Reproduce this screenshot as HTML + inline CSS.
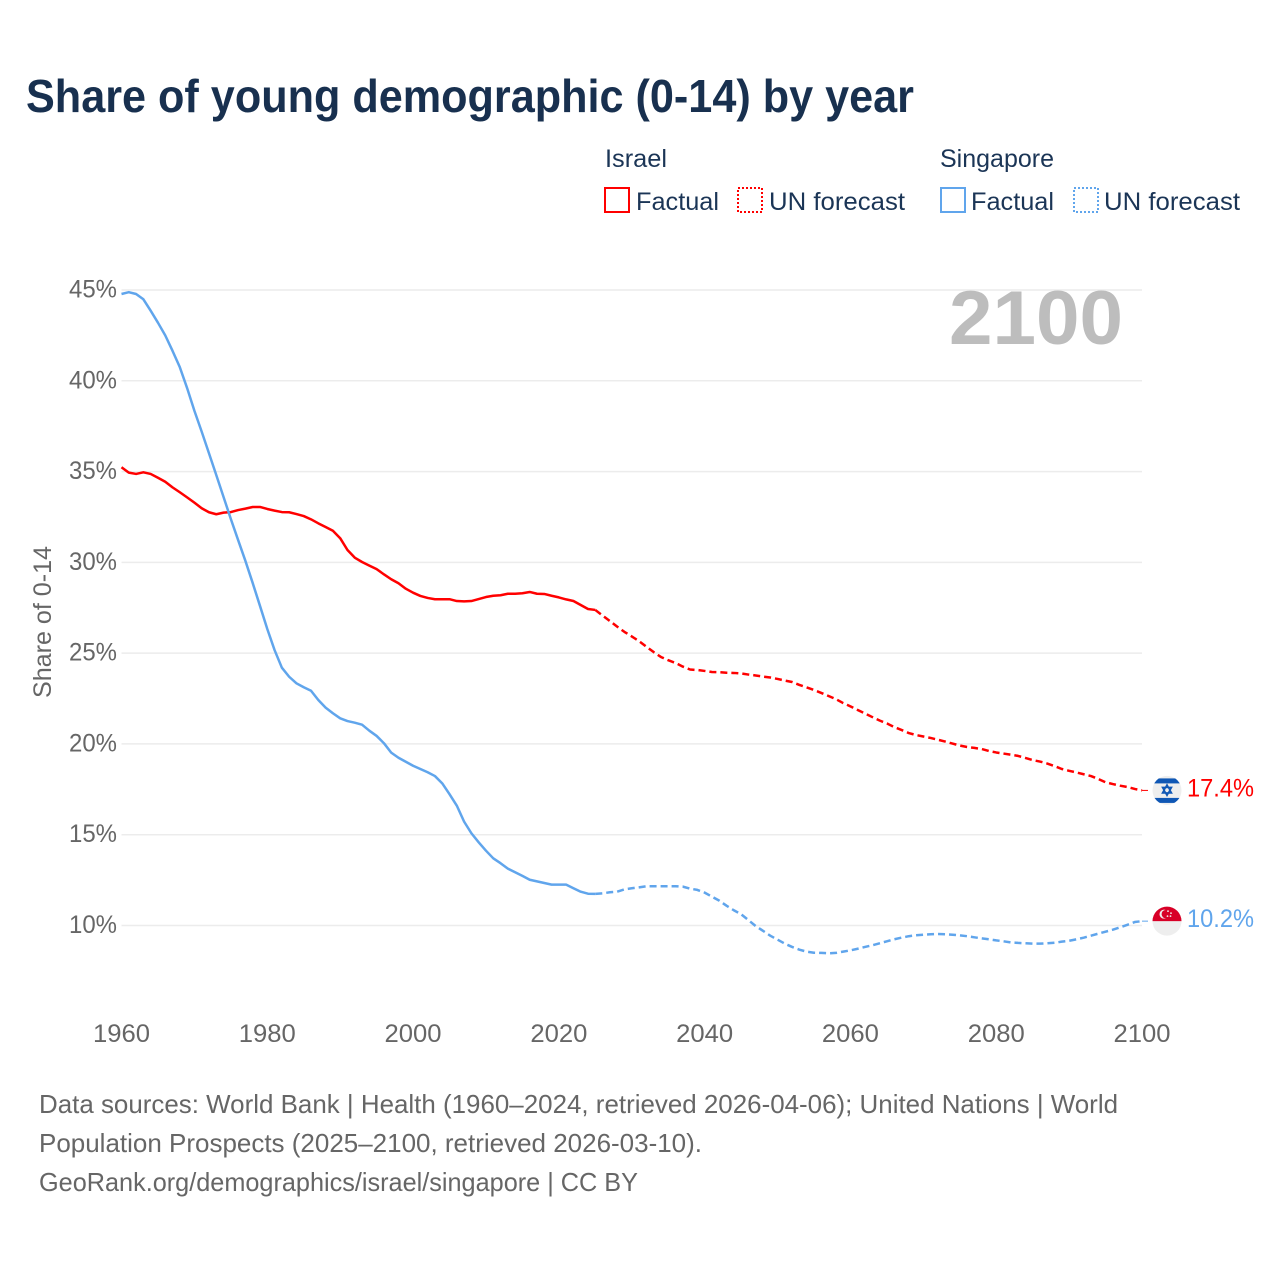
<!DOCTYPE html>
<html lang="en">
<head>
<meta charset="utf-8">
<title>Share of young demographic (0-14) by year</title>
<style>
  html, body { margin: 0; padding: 0; background: #fff; }
  svg { display: block; }
  text { font-family: "Liberation Sans", sans-serif; }
  .legend-text { font-size: 25px; fill: #1b3556; }
  .tick { font-size: 25px; fill: #666; }
  .foot { font-size: 26px; fill: #666; }
</style>
</head>
<body>
<svg id="chart" xmlns="http://www.w3.org/2000/svg" width="1280" height="1280" viewBox="0 0 1280 1280">
  <rect width="1280" height="1280" fill="#fff"/>
  <text x="26" y="112" font-size="46" font-weight="700" fill="#18304f" textLength="888" lengthAdjust="spacingAndGlyphs">Share of young demographic (0-14) by year</text>

  <g>
    <text class="legend-text" x="605" y="167" textLength="62" lengthAdjust="spacingAndGlyphs">Israel</text>
    <g>
      <rect x="605" y="188" width="24" height="24" fill="none" stroke="#ff0000" stroke-width="2"/>
      <text class="legend-text" x="636" y="210" textLength="83" lengthAdjust="spacingAndGlyphs">Factual</text>
    </g>
    <g>
      <rect x="738" y="188" width="24" height="24" fill="none" stroke="#ff0000" stroke-width="2" stroke-dasharray="2,2"/>
      <text class="legend-text" x="769" y="210" textLength="136" lengthAdjust="spacingAndGlyphs">UN forecast</text>
    </g>
    <text class="legend-text" x="940" y="167" textLength="114" lengthAdjust="spacingAndGlyphs">Singapore</text>
    <g>
      <rect x="941" y="188" width="24" height="24" fill="none" stroke="#60a5ec" stroke-width="2"/>
      <text class="legend-text" x="971" y="210" textLength="83" lengthAdjust="spacingAndGlyphs">Factual</text>
    </g>
    <g>
      <rect x="1074" y="188" width="24" height="24" fill="none" stroke="#60a5ec" stroke-width="2" stroke-dasharray="2,2"/>
      <text class="legend-text" x="1104" y="210" textLength="136" lengthAdjust="spacingAndGlyphs">UN forecast</text>
    </g>
  </g>

  <g id="grid"></g>
  <g id="yticks"></g>
  <g id="xticks"></g>
  <text transform="translate(51 622) rotate(-90)" text-anchor="middle" font-size="25" fill="#666" textLength="152" lengthAdjust="spacingAndGlyphs">Share of 0-14</text>
  <text x="949" y="344" font-size="76" font-weight="700" fill="#bdbdbd" textLength="174" lengthAdjust="spacingAndGlyphs">2100</text>
  <g id="series"></g>
  <g id="flags"></g>

  <g>
    <text class="foot" x="39" y="1113" textLength="1079" lengthAdjust="spacingAndGlyphs">Data sources: World Bank | Health (1960–2024, retrieved 2026-04-06); United Nations | World</text>
    <text class="foot" x="39" y="1152" textLength="663" lengthAdjust="spacingAndGlyphs">Population Prospects (2025–2100, retrieved 2026-03-10).</text>
    <text class="foot" x="39" y="1191" textLength="599" lengthAdjust="spacingAndGlyphs">GeoRank.org/demographics/israel/singapore | CC BY</text>
  </g>
</svg>
<script>
const firstYear = 1960;
const lastFactualYear = 2025;
const yTickValues = [10, 15, 20, 25, 30, 35, 40, 45];
const xTickYears = [1960, 1980, 2000, 2020, 2040, 2060, 2080, 2100];
const israelValues = [
  35.24,34.94,34.87,34.96,34.87,34.66,34.44,34.13,33.86,33.58,
  33.29,32.98,32.76,32.65,32.74,32.77,32.88,32.96,33.05,33.05,
  32.94,32.85,32.77,32.76,32.66,32.55,32.37,32.15,31.95,31.74,
  31.33,30.68,30.26,30.02,29.82,29.63,29.34,29.07,28.85,28.55,
  28.33,28.15,28.04,27.97,27.97,27.97,27.87,27.85,27.87,27.98,
  28.09,28.16,28.19,28.27,28.27,28.30,28.37,28.27,28.26,28.16,
  28.07,27.96,27.87,27.65,27.43,27.38,27.07,26.77,26.46,26.17,
  25.92,25.66,25.36,25.06,24.79,24.61,24.46,24.26,24.10,24.07,
  24.02,23.96,23.95,23.92,23.91,23.88,23.82,23.77,23.71,23.66,
  23.58,23.49,23.41,23.25,23.11,22.97,22.81,22.64,22.47,22.25,
  22.07,21.87,21.68,21.48,21.29,21.13,20.93,20.77,20.60,20.49,
  20.41,20.33,20.23,20.13,20.02,19.91,19.83,19.78,19.72,19.61,
  19.53,19.47,19.41,19.34,19.23,19.11,19.03,18.92,18.78,18.62,
  18.52,18.43,18.33,18.23,18.07,17.89,17.79,17.70,17.63,17.52,17.44
];
const singaporeValues = [
  44.78,44.88,44.78,44.49,43.86,43.20,42.50,41.65,40.75,39.60,
  38.35,37.20,36.01,34.81,33.60,32.39,31.23,30.08,28.86,27.60,
  26.33,25.17,24.20,23.70,23.34,23.12,22.93,22.42,22.00,21.69,
  21.41,21.26,21.17,21.06,20.73,20.44,20.04,19.52,19.24,19.02,
  18.80,18.62,18.44,18.23,17.83,17.23,16.60,15.72,15.08,14.58,
  14.12,13.70,13.43,13.13,12.93,12.73,12.52,12.43,12.34,12.25,
  12.25,12.25,12.05,11.86,11.75,11.74,11.77,11.83,11.86,11.99,
  12.05,12.10,12.16,12.16,12.16,12.16,12.16,12.14,12.03,11.96,
  11.81,11.59,11.37,11.09,10.84,10.62,10.30,9.97,9.71,9.44,
  9.22,9.00,8.82,8.67,8.56,8.50,8.49,8.47,8.49,8.56,
  8.63,8.72,8.82,8.91,9.02,9.13,9.24,9.33,9.41,9.46,
  9.49,9.52,9.53,9.52,9.49,9.46,9.41,9.35,9.29,9.24,
  9.18,9.13,9.07,9.04,9.02,9.00,9.00,9.02,9.05,9.11,
  9.16,9.24,9.33,9.44,9.55,9.66,9.77,9.90,10.04,10.19,10.24
];

const NS = 'http://www.w3.org/2000/svg';
function xScale(year) { return 121.5 + (year - 1960) * 1020.5 / 140; }
function yScale(v) { return 925.5 - (v - 10) * 18.157; }
function mk(parent, tag, attrs, txt) {
  const el = document.createElementNS(NS, tag);
  for (const k in attrs) el.setAttribute(k, attrs[k]);
  if (txt !== undefined) el.textContent = txt;
  parent.appendChild(el);
  return el;
}
function pathFor(values, startIdx, endIdx) {
  let d = '';
  for (let i = startIdx; i <= endIdx; i++) {
    d += (i === startIdx ? 'M' : 'L') + xScale(firstYear + i).toFixed(2) + ' ' + yScale(values[i]).toFixed(2);
  }
  return d;
}

const grid = document.getElementById('grid');
const yticks = document.getElementById('yticks');
const xticks = document.getElementById('xticks');
const seriesG = document.getElementById('series');
const flags = document.getElementById('flags');

yTickValues.forEach(function (v) {
  const line = mk(grid, 'line', { x1: 121.5, x2: 1142, y1: yScale(v), y2: yScale(v), stroke: '#ececec', 'stroke-width': 1.5 });
  
  
  const t = mk(yticks, 'text', { x: 117, y: yScale(v) + 7.5, 'text-anchor': 'end', class: 'tick', textLength: 48, lengthAdjust: 'spacingAndGlyphs' }, v + '%');
  
  
});

xTickYears.forEach(function (yr) {
  const t = mk(xticks, 'text', { x: xScale(yr), y: 1042, 'text-anchor': 'middle', class: 'tick', textLength: 57, lengthAdjust: 'spacingAndGlyphs' }, String(yr));
  
  
});

function drawSeries(key, values, color) {
  const cut = lastFactualYear - firstYear;
  const last = values.length - 1;
  const solid = mk(seriesG, 'path', { d: pathFor(values, 0, cut), fill: 'none', stroke: color, 'stroke-width': 2.5, 'stroke-linejoin': 'round' });
  
  
  const dash = mk(seriesG, 'path', { d: pathFor(values, cut, last), fill: 'none', stroke: color, 'stroke-width': 2.5, 'stroke-dasharray': '7,4', 'stroke-linejoin': 'round' });
  
  
  const endY = yScale(values[last]);
  const conn = mk(seriesG, 'line', { x1: xScale(firstYear + last), x2: 1151, y1: endY, y2: endY, stroke: color, 'stroke-width': 1, 'stroke-dasharray': '6,3' });
  
  
  const label = mk(seriesG, 'text', { x: 1187, y: endY + 6, 'font-size': 25, fill: color, textLength: 67, lengthAdjust: 'spacingAndGlyphs' }, values[last].toFixed(1) + '%');
  
  
  return endY;
}

const ilY = drawSeries('israel', israelValues, '#ff0000');
const sgY = drawSeries('singapore', singaporeValues, '#60a5ec');

const defs = mk(flags, 'defs', {});
const c1 = mk(defs, 'clipPath', { id: 'clip-il' });
mk(c1, 'circle', { cx: 1167, cy: ilY, r: 14.5 });
const c2 = mk(defs, 'clipPath', { id: 'clip-sg' });
mk(c2, 'circle', { cx: 1167, cy: sgY, r: 14.5 });

const ilFlag = mk(flags, 'g', { 'clip-path': 'url(#clip-il)' });


mk(ilFlag, 'rect', { x: 1152, y: ilY - 15, width: 30, height: 30, fill: '#eeeeee' });
mk(ilFlag, 'rect', { x: 1152, y: ilY - 12, width: 30, height: 5, fill: '#0f57b5' });
mk(ilFlag, 'rect', { x: 1152, y: ilY + 7.5, width: 30, height: 5, fill: '#0f57b5' });
mk(ilFlag, 'path', { d: 'M1167 ' + (ilY - 5.5) + 'l4.5 8h-9zM1167 ' + (ilY + 5) + 'l-4.5 -8h9z', fill: 'none', stroke: '#0f57b5', 'stroke-width': 1.6 });

const sgFlag = mk(flags, 'g', { 'clip-path': 'url(#clip-sg)' });


mk(sgFlag, 'rect', { x: 1152, y: sgY - 15, width: 30, height: 30, fill: '#eeeeee' });
mk(sgFlag, 'rect', { x: 1152, y: sgY - 15, width: 30, height: 15, fill: '#d80027' });
mk(sgFlag, 'circle', { cx: 1164, cy: sgY - 7, r: 4.5, fill: '#eeeeee' });
mk(sgFlag, 'circle', { cx: 1165.8, cy: sgY - 7, r: 4.2, fill: '#d80027' });
mk(sgFlag, 'circle', { cx: 1168, cy: sgY - 10, r: 0.9, fill: '#eeeeee' });
mk(sgFlag, 'circle', { cx: 1171, cy: sgY - 8, r: 0.9, fill: '#eeeeee' });
mk(sgFlag, 'circle', { cx: 1170.5, cy: sgY - 5, r: 0.9, fill: '#eeeeee' });
mk(sgFlag, 'circle', { cx: 1167.5, cy: sgY - 5, r: 0.9, fill: '#eeeeee' });
</script>
</body>
</html>
